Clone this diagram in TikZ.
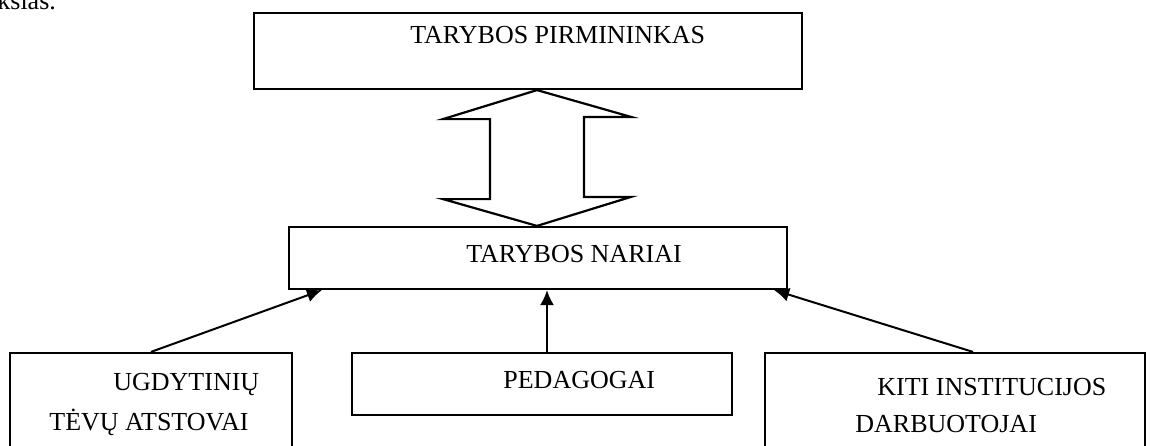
\documentclass[tikz,border=0pt]{standalone}
\usepackage{fontspec}
\setmainfont{Liberation Serif}
\usetikzlibrary{positioning,calc,arrows.meta}

\begin{document}
\begin{tikzpicture}[x=0.5pt, y=-0.5pt, >={Latex[length=7.5pt,width=7pt]},
    box/.style={draw, line width=1.1pt, inner sep=0pt},
    txt/.style={anchor=base west, inner sep=0pt, font=\fontsize{13pt}{15pt}\selectfont},
    hollow/.style={draw, line width=1.1pt, line join=miter},
    link/.style={draw, line width=1pt, ->}]
    \clip (0,0) rectangle (1151,445);

    % Preceding text
    \node[txt] (tail) at (-3,9) {ksias.};

    % Chairman
    \node[box, minimum width=274pt, minimum height=38pt] (chair) at (528,51) {};
    \node[txt] (chairtxt) at (410,43) {TARYBOS PIRMININKAS};

    % Members
    \node[box, minimum width=249pt, minimum height=31pt] (members) at (538,258) {};
    \node[txt] (memberstxt) at (466,262) {TARYBOS NARIAI};

    % Double arrow
    \coordinate (axis) at (537,0);
    \draw[hollow] (chair.south -| axis) -- ++(-94,29) -- ++(47,0) -- ++(0,80) -- ++(-47,0)
        -- (members.north -| axis) -- ++(94,-29) -- ++(-47,0) -- ++(0,-80) -- ++(47,0) -- cycle;

    % Parents
    \node[box, minimum width=141pt, minimum height=58.5pt] (parents) at (151,411.5) {};
    \node[txt] (parentstxta) at (113,390) {UGDYTINIŲ};
    \node[txt] (parentstxtb) at (49,430) {TĖVŲ ATSTOVAI};

    % Teachers
    \node[box, minimum width=190pt, minimum height=31pt] (teachers) at (542,384) {};
    \node[txt] (teacherstxt) at (503,388) {PEDAGOGAI};

    % Other staff
    \node[box, minimum width=190pt, minimum height=58.5pt] (staff) at (955,411.5) {};
    \node[txt] (stafftxta) at (877,395) {KITI INSTITUCIJOS};
    \node[txt] (stafftxtb) at (855,432) {DARBUOTOJAI};

    % Links
    \draw[link] (parents.north) -- ([xshift=17pt]members.south west);
    \draw[link] ([xshift=2.5pt]teachers.north) -- ([xshift=2.5pt]teachers.north |- members.south);
    \draw[link] ([xshift=9pt]staff.north) -- ([xshift=-7pt]members.south east);
\end{tikzpicture}
\end{document}
